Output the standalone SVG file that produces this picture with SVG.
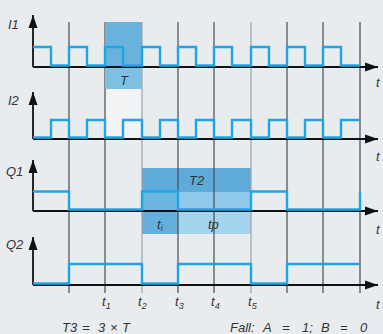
<svg xmlns="http://www.w3.org/2000/svg" width="383" height="334" viewBox="0 0 383 334">
<defs>
<marker id="arr" markerUnits="userSpaceOnUse" markerWidth="14" markerHeight="10" refX="13" refY="5" orient="auto">
<path d="M0,0.5 L13,5 L0,9.5 Z" fill="#111"/>
</marker>
</defs>
<style>
.bg{fill:#e9ecee}
.grid{stroke:#4a4a4a;stroke-width:1.2;fill:none}
.gridl{stroke:#a0a3a6;stroke-width:1.2;fill:none}
.axis{stroke:#111;stroke-width:1.8;fill:none;marker-end:url(#arr)}
.wave{stroke:#1ea5e3;stroke-width:2.4;fill:none;stroke-linejoin:miter}
.lbl{font-family:"Liberation Sans",Arial,sans-serif;font-style:italic;font-size:13px;fill:#333}
.sub{font-size:9px}
</style>
<rect class="bg" x="0" y="0" width="383" height="334"/>
<g id="boxes">
<rect x="105" y="89" width="37" height="50" fill="#f1f3f4"/>
<rect x="142" y="168" width="109" height="24" fill="#5eabd9"/>
<rect x="142" y="192" width="36" height="18" fill="#6cb5df"/>
<rect x="178" y="192" width="73" height="18" fill="#8fcaea"/>
<rect x="142" y="211" width="36" height="23" fill="#64b0dc"/>
<rect x="178" y="211" width="73" height="23" fill="#a5d4ee"/>
</g>
<g id="grid">
<line class="grid" x1="69" y1="22" x2="69" y2="293"/>
<line class="grid" x1="105" y1="22" x2="105" y2="293"/>
<line class="gridl" x1="142" y1="22" x2="142" y2="293"/>
<line class="grid" x1="178" y1="22" x2="178" y2="293"/>
<line class="grid" x1="214" y1="22" x2="214" y2="293"/>
<line class="gridl" x1="251" y1="22" x2="251" y2="293"/>
<line class="grid" x1="287" y1="22" x2="287" y2="293"/>
<line class="grid" x1="323" y1="22" x2="323" y2="293"/>
<line class="grid" x1="360" y1="22" x2="360" y2="293"/>
</g>
<g id="boxT">
<rect x="105" y="22" width="37" height="45" fill="#68b3de"/>
<rect x="105" y="67" width="37" height="22" fill="#7ec0e4"/>
</g>
<g id="connectors">
<path class="axis" d="M33,67 V15"/>
<path class="axis" d="M33,139 V92"/>
<path class="axis" d="M33,211 V160"/>
<path class="axis" d="M33,285 V237"/>
<path class="axis" d="M33,67 H378"/>
<path class="axis" d="M33,139 H378"/>
<path class="axis" d="M33,211 H378"/>
<path class="axis" d="M33,285 H378"/>
</g>
<g id="I1">
<path class="wave" d="M33,47 H51 V65.5 H69 V47 H87 V65.5 H105 V47 H123 V65.5 H142 V47 H160 V65.5 H178 V47 H196 V65.5 H214 V47 H232 V65.5 H251 V47 H269 V65.5 H287 V47 H305 V65.5 H323 V47 H341 V65.5 H360"/>
<text class="lbl" x="8" y="29">I1</text>
</g>
<g id="I2">
<path class="wave" d="M33,137.5 H51 V120 H69 V137.5 H87 V120 H105 V137.5 H123 V120 H142 V137.5 H160 V120 H178 V137.5 H196 V120 H214 V137.5 H232 V120 H251 V137.5 H269 V120 H287 V137.5 H305 V120 H323 V137.5 H341 V120 H360"/>
<text class="lbl" x="8" y="105">I2</text>
</g>
<g id="Q1">
<path class="wave" d="M33,191.5 H69 V209.5 H142 V191.5 H178 V209.5 H251 V191.5 H287 V209.5 H360 V191.5"/>
<text class="lbl" x="6" y="176">Q1</text>
</g>
<g id="Q2">
<path class="wave" d="M33,283.5 H69 V264 H142 V283.5 H178 V264 H251 V283.5 H287 V264 H360"/>
<text class="lbl" x="6" y="249">Q2</text>
</g>
<g id="labels">
<text class="lbl" x="120" y="85">T</text>
<text class="lbl" x="189" y="185">T2</text>
<text class="lbl" x="157" y="229">t<tspan class="sub" dy="2">i</tspan></text>
<text class="lbl" x="208" y="229">tp</text>
<text class="lbl" x="376" y="87">t</text>
<text class="lbl" x="376" y="161">t</text>
<text class="lbl" x="376" y="234">t</text>
<text class="lbl" x="376" y="309">t</text>
<text class="lbl" x="102" y="306">t<tspan class="sub" dy="3">1</tspan></text>
<text class="lbl" x="138" y="306">t<tspan class="sub" dy="3">2</tspan></text>
<text class="lbl" x="175" y="306">t<tspan class="sub" dy="3">3</tspan></text>
<text class="lbl" x="211" y="306">t<tspan class="sub" dy="3">4</tspan></text>
<text class="lbl" x="248" y="306">t<tspan class="sub" dy="3">5</tspan></text>
<text class="lbl" style="font-size:13px" x="62" y="332">T3<tspan x="82">=</tspan><tspan x="98">3</tspan><tspan x="110">×</tspan><tspan x="122">T</tspan></text>
<text class="lbl" style="font-size:13px" x="230" y="332">Fall:<tspan x="263">A</tspan><tspan x="282">=</tspan><tspan x="302">1;</tspan><tspan x="321">B</tspan><tspan x="340">=</tspan><tspan x="360">0</tspan></text>
</g>
</svg>
